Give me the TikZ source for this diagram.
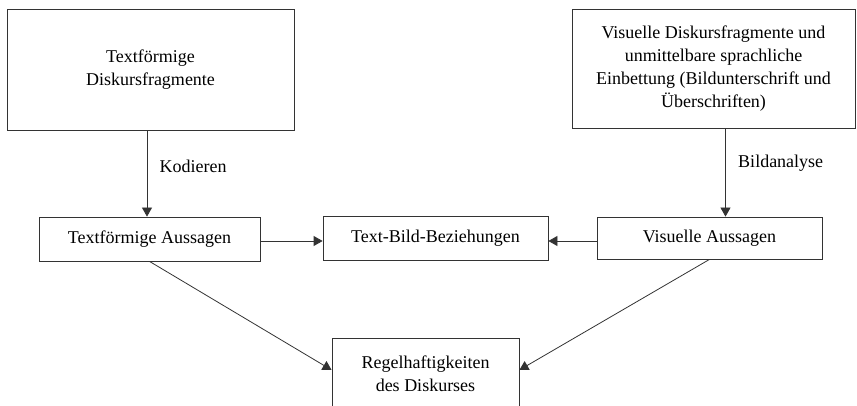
\documentclass[tikz,border=0pt]{standalone}
\usepackage{fontspec}
\setmainfont{Liberation Serif}
\usetikzlibrary{arrows.meta}
\tikzset{
  kasten/.style={draw=black!80, line width=0.8pt, align=center, inner sep=2pt,
    font=\fontsize{18}{23}\selectfont},
  pfeil/.style={draw=black!80, line width=0.8pt, -{Triangle[width=10pt,length=9pt]}},
  beschriftung/.style={font=\fontsize{18}{23}\selectfont}
}
\begin{document}
\begin{tikzpicture}[x=1pt,y=-1pt]
   \useasboundingbox (0,0) rectangle (857,406);
   \clip (0,0) rectangle (857,406);
   \node[kasten, minimum width=287pt, minimum height=121pt] (tdf) at (150.5,69.5) {Textförmige\\Diskursfragmente};
   \node[kasten, minimum width=283pt, minimum height=119pt] (vdf) at (713.5,68.5) {Visuelle Diskursfragmente und\\unmittelbare sprachliche\\Einbettung (Bildunterschrift und\\Überschriften)};
   \node[kasten, minimum width=221pt, minimum height=44pt] (ta) at (149.5,239) {Textförmige Aussagen};
   \node[kasten, minimum width=225pt, minimum height=44pt] (tbb) at (435.5,238) {Text-Bild-Beziehungen};
   \node[kasten, minimum width=225pt, minimum height=42pt] (va) at (709.5,238) {Visuelle Aussagen};
   \node[kasten, minimum width=187pt, minimum height=72pt] (rd) at (425.5,374) {Regelhaftigkeiten\\des Diskurses};
   % senkrechte Pfeile
   \draw[pfeil] ([xshift=-2.5pt]ta.north |- tdf.south) -- node[beschriftung, pos=0.42, right=9pt] {Kodieren} ([xshift=-2.5pt]ta.north);
   \draw[pfeil] ([xshift=16pt]va.north |- vdf.south) -- node[beschriftung, pos=0.4, right=9pt] {Bildanalyse} ([xshift=16pt]va.north);
   % waagerechte Pfeile
   \draw[pfeil] ([yshift=-2pt]ta.east) -- ([yshift=-2pt]ta.east -| tbb.west);
   \draw[pfeil] ([yshift=-3pt]va.west) -- ([yshift=-3pt]va.west -| tbb.east);
   % schraege Pfeile
   \draw[pfeil] (ta.south) -- ([yshift=4pt]rd.west);
   \draw[pfeil] (va.south) -- ([yshift=4pt]rd.east);
\end{tikzpicture}
\end{document}
